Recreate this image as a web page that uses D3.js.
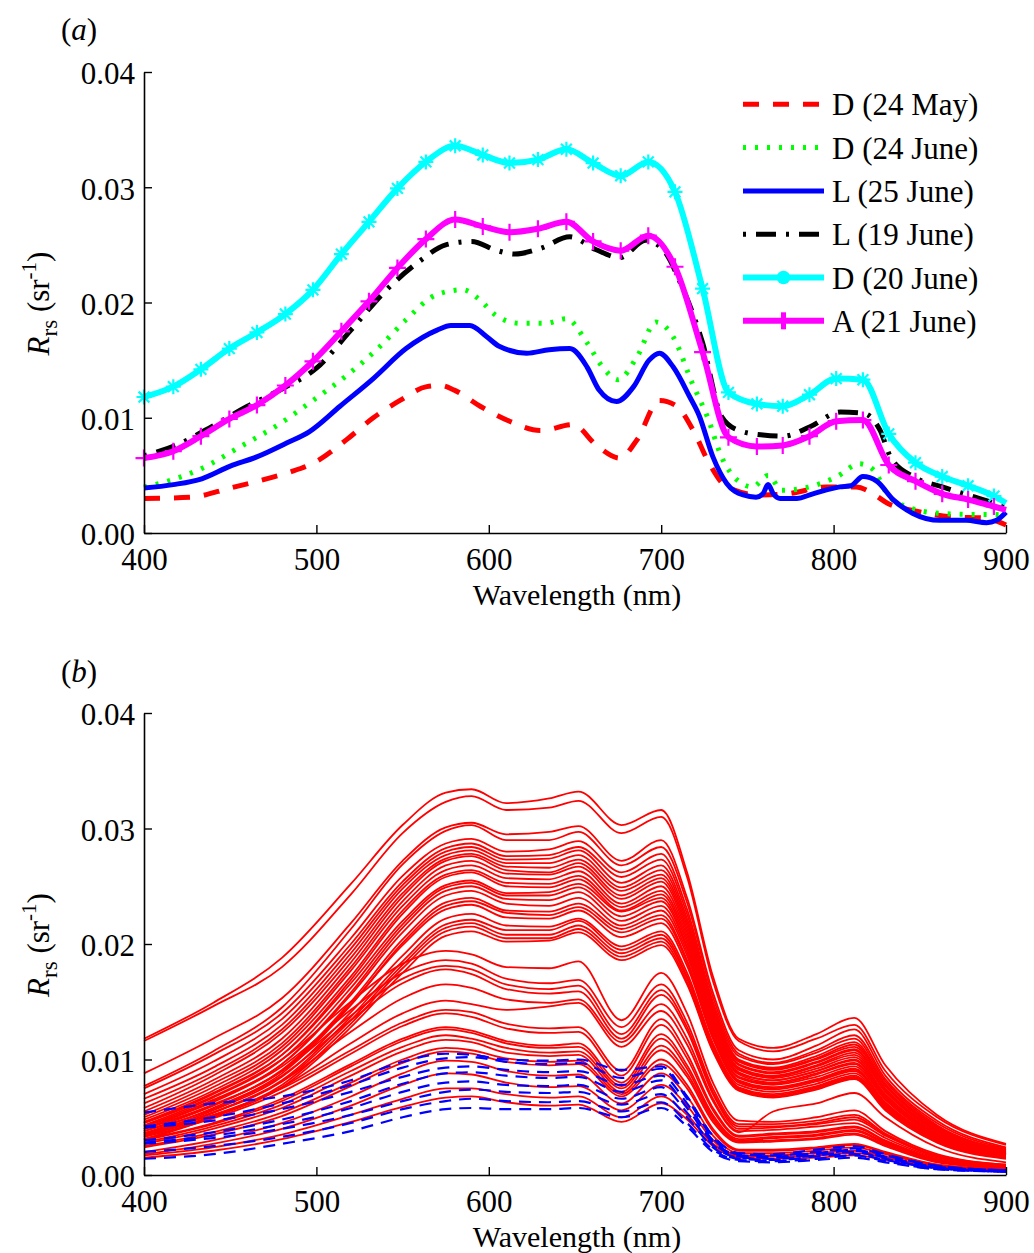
<!DOCTYPE html>
<html>
<head>
<meta charset="utf-8">
<script src="https://cdn.jsdelivr.net/npm/d3@7"></script>
<style>
  html, body { margin: 0; padding: 0; background: #fff; }
  svg { display: block; }
  text { font-family: "Liberation Serif", "Times New Roman", serif; fill: #000; }
</style>
</head>
<body>
<svg id="chart" width="1034" height="1253"></svg>
<script>
// ---------- axis ticks ----------
const xTicks = [400, 500, 600, 700, 800, 900];
const yTicks = [0, 0.01, 0.02, 0.03, 0.04];

// ---------- panel (a): six reference stations ----------
const legendLabels = ["D (24 May)", "D (24 June)", "L (25 June)", "L (19 June)", "D (20 June)", "A (21 June)"];

// wavelengths (nm) of the marked samples of the two marked spectra
const wlMarked = [400, 417, 433, 449.5, 465.5, 482, 498, 514.5, 530.5, 547, 563.5, 580.5, 596.5, 612, 628.5, 645,
  660.5, 676.5, 692.5, 708, 724, 739, 755.5, 770.5, 786, 801.5, 817, 832, 847.5, 863, 878, 893, 900];

// D (20 June), Rrs in sr^-1
const rrsD20June = [0.0118, 0.0127, 0.0142, 0.0160, 0.0174, 0.0190, 0.0211, 0.0242, 0.0270, 0.0299, 0.0322, 0.0336,
  0.0328, 0.0321, 0.0324, 0.0333, 0.0321, 0.0310, 0.0322, 0.0296, 0.0212, 0.0122, 0.0112, 0.0110, 0.0120, 0.0134,
  0.0133, 0.0086, 0.0061, 0.0049, 0.0041, 0.0032, 0.0026];

// A (21 June), Rrs in sr^-1
const rrsA21June = [0.0065, 0.0071, 0.0084, 0.0099, 0.0111, 0.0128, 0.0149, 0.0175, 0.0201, 0.0230, 0.0255, 0.0272,
  0.0266, 0.0261, 0.0264, 0.0270, 0.0253, 0.0245, 0.0258, 0.0231, 0.0157, 0.0083, 0.0075, 0.0076, 0.0084, 0.0097,
  0.0098, 0.0059, 0.0045, 0.0034, 0.0029, 0.0023, 0.0020];

// D (24 May): [wavelength, Rrs]
const rrsD24May = [[400, 0.0030], [427, 0.0031], [450, 0.0039], [471, 0.0047], [485, 0.0053], [500, 0.0062],
  [517.5, 0.0081], [533, 0.0100], [548.5, 0.0115], [564, 0.0127], [572, 0.0128], [580, 0.0124], [595, 0.0110],
  [612, 0.0097], [630, 0.0089], [649, 0.0094], [662.5, 0.0076], [676, 0.0065], [686, 0.0081], [699, 0.0115],
  [709, 0.0110], [718.6, 0.0089], [728, 0.0060], [738, 0.0040], [757, 0.0033], [773, 0.0034], [796, 0.0040],
  [813, 0.0040], [823, 0.0034], [831, 0.0026], [848, 0.0019], [869, 0.0014], [887, 0.0013], [900, 0.0007]];

// D (24 June): [wavelength, Rrs]
const rrsD24June = [[400, 0.0040], [409, 0.0043], [432, 0.0055], [456, 0.0075], [479, 0.0095], [498, 0.0115],
  [517, 0.0136], [537, 0.0162], [552, 0.0185], [570, 0.0207], [585, 0.0211], [595, 0.0202], [604, 0.0189],
  [618, 0.0182], [633, 0.0182], [645, 0.0186], [657, 0.0165], [666, 0.0144], [675, 0.0133], [686, 0.0153],
  [697, 0.0183], [707, 0.0170], [718, 0.0130], [727, 0.0100], [735, 0.0066], [744, 0.0046], [753, 0.0040],
  [762, 0.0050], [770, 0.0037], [786, 0.0040], [802, 0.0049], [815, 0.0060], [823, 0.0055], [831, 0.0034],
  [842, 0.0023], [862, 0.0017], [887, 0.0016], [900, 0.0016]];

// L (25 June): [wavelength, Rrs]
const rrsL25June = [[400, 0.0039], [417, 0.0042], [433.5, 0.0047], [450, 0.0058], [465.4, 0.0066], [482.7, 0.0078],
  [496, 0.0088], [513.7, 0.0110], [533, 0.0134], [552, 0.0160], [570, 0.0176], [578, 0.0180], [589, 0.0180],
  [599, 0.0170], [606, 0.0162], [622, 0.0156], [635, 0.0159], [647, 0.0160], [657, 0.0144], [664, 0.0124],
  [674, 0.0114], [684, 0.0127], [693, 0.0150], [699, 0.0156], [707, 0.0144], [716.6, 0.0118], [722, 0.0102],
  [730, 0.0066], [738, 0.0043], [747.6, 0.0033], [755, 0.0031], [759, 0.0034], [762, 0.0042], [765, 0.0034],
  [769, 0.0030], [778.5, 0.0030], [788, 0.0034], [803.6, 0.0040], [810, 0.0041], [817, 0.0049], [825, 0.0045],
  [834.5, 0.0029], [846, 0.0017], [861.6, 0.0011], [877, 0.0011], [888.7, 0.0009], [894.5, 0.0011], [900, 0.0018]];

// L (19 June): [wavelength, Rrs]
const rrsL19June = [[400, 0.0067], [420, 0.0077], [440, 0.0093], [460, 0.0110], [480, 0.0125], [500, 0.0143],
  [520, 0.0176], [540, 0.0210], [560, 0.0236], [575, 0.0250], [590, 0.0253], [605, 0.0245], [615, 0.0242],
  [630, 0.0247], [647, 0.0257], [662, 0.0246], [676, 0.0239], [691, 0.0254], [701, 0.0246], [712, 0.0214],
  [724, 0.0165], [735, 0.0101], [745, 0.0089], [759, 0.0085], [771, 0.0084], [786, 0.0092], [804, 0.0105],
  [817, 0.0104], [827, 0.0089], [833, 0.0066], [846, 0.0049], [863, 0.0040], [878, 0.0033], [893, 0.0026],
  [900, 0.0022]];

// ---------- panel (b): all stations, Rrs in units of 1e-4 sr^-1 ----------
const wlB = [400, 440, 480, 520, 550, 575, 590, 610, 635, 652, 677, 700, 715, 730, 745, 765, 790, 812, 830, 860, 900];
const rrsUnitB = 1e-4;

const redSpectra = [
  [118,149,188,252,303,331,334,322,326,332,303,316,262,172,118,110,122,136,95,52,27],
  [116,146,180,243,296,323,328,316,318,324,296,310,258,168,116,107,118,130,90,50,26],
  [88,118,153,218,272,301,305,295,297,302,272,290,240,158,108,100,112,126,86,47,24],
  [77,107,145,213,269,298,303,290,290,297,268,284,236,154,105,97,108,121,83,45,23],
  [75,104,140,205,259,287,291,280,282,289,262,278,230,150,103,96,106,118,81,43,22],
  [70,98,135,200,254,283,287,276,277,284,258,273,226,147,100,93,103,115,79,42,22],
  [66,93,130,196,251,280,284,273,274,281,253,268,222,145,99,92,101,113,78,41,21],
  [62,89,126,192,248,277,281,270,270,277,249,264,219,143,98,91,100,111,77,40,21],
  [58,86,123,188,244,274,278,267,266,273,246,260,216,141,96,89,98,109,75,39,20],
  [55,82,118,184,241,272,276,264,262,270,242,257,213,139,95,88,97,108,74,38,20],
  [52,79,114,180,237,268,272,261,260,267,239,254,210,137,93,86,95,106,73,38,19],
  [50,76,111,177,233,264,268,257,256,263,235,250,207,135,92,85,94,104,72,37,19],
  [48,73,108,172,229,260,264,253,252,259,232,246,204,133,91,84,92,102,70,36,18],
  [45,70,104,169,226,258,262,250,249,256,229,243,201,131,89,82,90,100,69,35,18],
  [46,71,104,166,220,251,255,244,245,252,228,240,198,129,88,82,90,99,68,35,18],
  [43,67,100,162,217,249,253,242,242,249,224,237,196,127,87,80,88,97,67,34,17],
  [40,64,96,158,214,246,250,239,238,245,220,233,193,125,85,79,87,96,66,33,17],
  [42,65,96,156,210,242,246,235,233,240,216,229,190,123,84,78,85,94,65,33,17],
  [38,60,91,150,204,236,240,229,228,235,213,225,186,121,82,76,83,92,63,32,16],
  [36,58,88,147,201,233,237,227,225,232,210,222,184,119,81,75,82,91,62,31,16],
  [40,61,90,148,199,230,234,223,222,229,206,218,181,118,80,74,81,90,61,31,16],
  [35,56,85,141,190,222,226,216,215,222,198,211,175,114,78,72,79,88,60,30,15],
  [33,54,82,137,185,217,221,212,212,220,195,208,172,112,76,70,77,86,59,30,15],
  [34,54,81,134,182,214,218,208,208,216,192,205,170,110,75,69,76,85,58,29,15],
  [31,51,78,131,179,211,215,205,205,213,189,202,167,108,74,68,75,84,57,29,15],
  [30,50,76,128,175,207,211,202,203,210,186,199,165,107,73,67,74,83,56,28,14],
  [45,68,100,150,183,194,191,180,179,185,134,175,140,80,47,46,50,56,38,18,9],
  [42,63,94,143,175,186,183,170,166,169,128,165,132,75,44,44,47,52,36,17,9],
  [40,60,90,138,170,181,178,165,161,164,122,160,128,72,42,42,45,50,35,16,8],
  [38,57,86,134,166,178,174,161,157,159,118,156,125,70,40,41,44,48,34,16,8],
  [36,54,81,124,153,165,162,152,149,152,115,148,118,66,38,39,42,45,32,15,8],
  [34,51,76,114,140,151,148,143,146,149,111,142,113,64,37,55,62,71,50,24,11],
  [36,52,75,108,132,143,141,131,127,128,90,135,105,58,34,36,38,42,30,14,7],
  [33,49,72,105,129,140,137,127,123,124,86,130,101,56,33,35,37,41,29,13,7],
  [31,45,66,96,118,128,125,116,112,114,80,122,95,52,31,33,35,39,28,13,6],
  [30,44,64,94,116,126,123,114,110,111,77,118,92,50,30,32,34,38,27,12,6],
  [28,42,61,90,111,121,118,110,106,107,75,112,88,48,29,30,32,36,26,12,6],
  [27,40,58,86,107,117,115,106,103,104,72,108,85,46,28,29,31,35,25,11,6],
  [25,37,54,80,100,110,108,101,98,99,70,100,78,40,22,22,24,27,20,9,5],
  [24,35,51,77,97,107,105,98,95,96,68,96,75,38,21,21,23,26,19,9,5],
  [20,30,45,68,88,99,98,90,86,87,62,88,68,34,19,19,21,24,18,8,4],
  [18,27,40,60,78,88,87,80,76,77,56,78,60,30,17,17,19,21,16,7,4],
  [17,24,35,52,66,75,75,70,67,68,50,68,52,27,16,16,17,19,15,7,4],
  [15,21,31,46,59,67,68,63,60,61,46,62,48,25,15,14,15,17,13,6,3]
];

const blueSpectra = [
  [54,62,68,82,98,105,104,100,99,100,91,94,68,34,19,18,22,25,18,8,4],
  [42,50,62,78,93,101,102,98,96,97,84,92,66,32,18,17,20,23,17,8,4],
  [41,47,57,72,85,93,94,91,89,90,78,86,62,30,17,16,19,22,16,7,4],
  [30,37,48,64,79,88,89,86,84,85,72,82,58,28,16,15,18,21,15,7,4],
  [28,34,44,58,72,80,81,78,77,78,66,76,54,26,15,14,17,20,14,6,3],
  [27,32,40,52,64,72,74,72,71,72,61,70,50,24,14,13,16,18,13,6,3],
  [20,25,33,45,57,64,66,64,63,64,55,63,45,22,13,12,14,17,12,5,3],
  [14,18,27,38,50,57,58,57,57,58,50,58,42,20,12,11,13,15,11,5,3]
];

// ---------- drawing ----------
const FONT = 31;
const svg = d3.select("#chart");
svg.append("rect").attr("width", 1034).attr("height", 1253).attr("fill", "#fff");

const x = d3.scaleLinear().domain([400, 900]).range([144, 1006]);
const yA = d3.scaleLinear().domain([0, 0.04]).range([533, 72]);
const yB = d3.scaleLinear().domain([0, 0.04]).range([1175, 713]);

const zip = (wl, vals) => wl.map((w, i) => [w, vals[i]]);

const seriesA = [
  { label: legendLabels[0], pts: rrsD24May, color: "#ff0000", width: 5, dash: "16,14" },
  { label: legendLabels[1], pts: rrsD24June, color: "#00ff00", width: 5, dash: "3,9" },
  { label: legendLabels[2], pts: rrsL25June, color: "#0000ff", width: 5, dash: null },
  { label: legendLabels[3], pts: rrsL19June, color: "#000000", width: 5, dash: "3,10,20,10" },
  { label: legendLabels[4], pts: zip(wlMarked, rrsD20June), color: "#00ffff", width: 6, dash: null, marker: "asterisk" },
  { label: legendLabels[5], pts: zip(wlMarked, rrsA21June), color: "#ff00ff", width: 6, dash: null, marker: "plus" }
];

function markerPath(type, cx, cy) {
  if (type === "asterisk") {
    const r = 7.5, d = r * 0.72;
    return `M${cx - r},${cy}H${cx + r}M${cx},${cy - r}V${cy + r}` +
           `M${cx - d},${cy - d}L${cx + d},${cy + d}M${cx - d},${cy + d}L${cx + d},${cy - d}`;
  }
  const r = 8.5;
  return `M${cx - r},${cy}H${cx + r}M${cx},${cy - r}V${cy + r}`;
}

function drawAxes(y, y0, panelLetter, panelBaseline) {
  const gx = svg.append("g")
    .attr("transform", `translate(0,${y0})`)
    .call(d3.axisBottom(x).tickValues(xTicks).tickFormat(d3.format("d"))
      .tickSizeInner(-8).tickSizeOuter(0).tickPadding(15));
  const gy = svg.append("g")
    .attr("transform", "translate(144,0)")
    .call(d3.axisLeft(y).tickValues(yTicks).tickFormat(d3.format(".2f"))
      .tickSizeInner(-8).tickSizeOuter(0).tickPadding(9));
  [gx, gy].forEach(g => {
    g.attr("font-size", FONT).attr("font-family", "'Liberation Serif','Times New Roman',serif");
    g.selectAll("path.domain").attr("stroke", "#000").attr("stroke-width", 1.6);
    g.selectAll(".tick line").attr("stroke", "#000").attr("stroke-width", 1.4);
    g.selectAll(".tick text").attr("fill", "#000");
  });
  gy.selectAll(".tick text").attr("dy", "0.38em");

  // x title
  svg.append("text")
    .attr("x", 577).attr("y", y0 + 72)
    .attr("text-anchor", "middle").attr("font-size", 30)
    .text("Wavelength (nm)");

  // y title: R_rs (sr^-1)
  const cy = (y.range()[0] + y.range()[1]) / 2 + 1;
  const t = svg.append("text")
    .attr("transform", `translate(49,${cy}) rotate(-90)`)
    .attr("text-anchor", "middle").attr("font-size", FONT);
  t.append("tspan").attr("font-style", "italic").text("R");
  t.append("tspan").attr("font-size", 23).attr("dy", 8).text("rs");
  t.append("tspan").attr("dy", -8).text(" (sr");
  t.append("tspan").attr("font-size", 21).attr("dy", -13).text("-1");
  t.append("tspan").attr("dy", 13).text(")");

  // panel letter
  const p = svg.append("text").attr("x", 61).attr("y", panelBaseline).attr("font-size", FONT);
  p.append("tspan").text("(");
  p.append("tspan").attr("font-style", "italic").text(panelLetter);
  p.append("tspan").text(")");
}

// panel (a)
const lineA = d3.line().x(d => x(d[0])).y(d => yA(d[1])).curve(d3.curveMonotoneX);
const gA = svg.append("g");
seriesA.forEach(s => {
  gA.append("path")
    .attr("d", lineA(s.pts))
    .attr("fill", "none")
    .attr("stroke", s.color)
    .attr("stroke-width", s.width)
    .attr("stroke-linejoin", "round")
    .attr("stroke-dasharray", s.dash);
  if (s.marker) {
    gA.append("path")
      .attr("d", s.pts.filter(d => d[0] < 900).map(d => markerPath(s.marker, x(d[0]), yA(d[1]))).join(""))
      .attr("fill", "none").attr("stroke", s.color).attr("stroke-width", 2.2);
  }
});

// legend
const legend = svg.append("g");
seriesA.forEach((s, i) => {
  const ly = 104.3 + i * 43.3;
  legend.append("line")
    .attr("x1", 743).attr("x2", 824).attr("y1", ly).attr("y2", ly)
    .attr("stroke", s.color).attr("stroke-width", s.width)
    .attr("stroke-dasharray", s.dash);
  if (s.marker === "asterisk") {
    legend.append("circle").attr("cx", 783.5).attr("cy", ly).attr("r", 6.8).attr("fill", s.color);
  } else if (s.marker === "plus") {
    legend.append("line").attr("x1", 783.5).attr("x2", 783.5).attr("y1", ly - 8.5).attr("y2", ly + 8.5)
      .attr("stroke", s.color).attr("stroke-width", 5);
  }
  legend.append("text").attr("x", 832).attr("y", ly + 11).attr("font-size", FONT).text(s.label);
});

drawAxes(yA, 533, "a", 40);

// panel (b)
const lineB = d3.line()
  .x((d, i) => x(wlB[i]))
  .y(d => yB(d * rrsUnitB))
  .curve(d3.curveMonotoneX);
const gB = svg.append("g");
redSpectra.forEach(r => {
  gB.append("path").attr("d", lineB(r)).attr("fill", "none")
    .attr("stroke", "#ff0000").attr("stroke-width", 1.8);
});
blueSpectra.forEach(r => {
  gB.append("path").attr("d", lineB(r)).attr("fill", "none")
    .attr("stroke", "#0000ff").attr("stroke-width", 2.2).attr("stroke-dasharray", "12,8");
});

drawAxes(yB, 1175, "b", 682);
</script>
</body>
</html>
